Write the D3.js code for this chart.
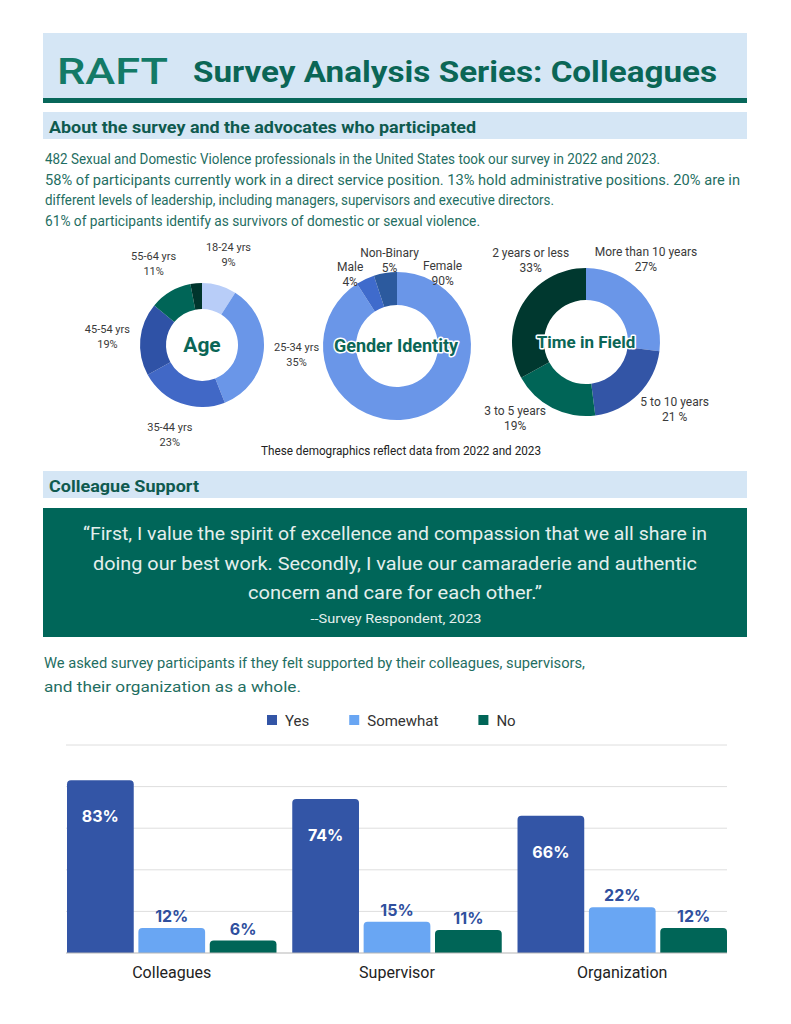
<!DOCTYPE html>
<html>
<head>
<meta charset="utf-8">
<script src="https://cdn.jsdelivr.net/npm/d3@7"></script>
<style>
  body { margin: 0; background: #fff; }
  svg { display: block; }
</style>
</head>
<body>
<svg id="page" width="791" height="1024"></svg>
<script>
// ---- data ----
var ageLabels = ["18-24 yrs", "25-34 yrs", "35-44 yrs", "45-54 yrs", "55-64 yrs", "65+ yrs"];
var ageValues = [9, 35, 23, 19, 11, 3];
var ageShown  = [true, true, true, true, true, false];

var genderLabels = ["Female", "Male", "Non-Binary"];
var genderValues = [90, 4, 5];

var timeLabels = ["More than 10 years", "5 to 10 years", "3 to 5 years", "2 years or less"];
var timeValues = [27, 21, 19, 33];
var timePctText = ["27%", "21 %", "19%", "33%"];

var groups  = ["Colleagues", "Supervisor", "Organization"];
var answers = ["Yes", "Somewhat", "No"];
var yesValues      = [83, 74, 66];
var somewhatValues = [12, 15, 22];
var noValues       = [6, 11, 12];

var paraLines = [
  "482 Sexual and Domestic Violence professionals in the United States took our survey in 2022 and 2023.",
  "58% of participants currently work in a direct service position. 13% hold administrative positions. 20% are in",
  "different levels of leadership, including managers, supervisors and executive directors.",
  "61% of participants identify as survivors of domestic or sexual violence."
];
var quoteLines = [
  "\u201cFirst, I value the spirit of excellence and compassion that we all share in",
  "doing our best work. Secondly, I value our camaraderie and authentic",
  "concern and care for each other.\u201d"
];
var askedLines = [
  "We asked survey participants if they felt supported by their colleagues, supervisors,",
  "and their organization as a whole."
];

// ---- colours ----
var teal = "#0b6656", textTeal = "#1f6e62", lightBox = "#d5e6f5";
var blueDark = "#3355a6", blueLight = "#69a6f3", greenDark = "#006557";

var svg = d3.select("#page");
var font = "Roboto, 'Open Sans', sans-serif";

function txt(x, y, s, o) {
  o = o || {};
  var t = svg.append("text")
    .attr("x", x).attr("y", y)
    .attr("font-family", o.family || font)
    .attr("font-size", o.size || 14)
    .attr("font-weight", o.weight || 400)
    .attr("fill", o.fill || "#333")
    .attr("text-anchor", o.anchor || "start")
    .text(s);
  if (o.len) t.attr("textLength", o.len).attr("lengthAdjust", "spacingAndGlyphs");
  return t;
}

// ---- header ----
svg.append("rect").attr("x", 43).attr("y", 33).attr("width", 704).attr("height", 65).attr("fill", lightBox);
svg.append("rect").attr("x", 43).attr("y", 98).attr("width", 704).attr("height", 5).attr("fill", "#07675a");
txt(57, 84, "RAFT", {size: 36, weight: 500, fill: "#137a67", len: 111});
txt(193, 82, "Survey Analysis Series: Colleagues", {size: 30, weight: 700, fill: teal, len: 524});

// ---- about section ----
svg.append("rect").attr("x", 43).attr("y", 112).attr("width", 704).attr("height", 27).attr("fill", lightBox);
txt(49, 133, "About the survey and the advocates who participated", {size: 17, weight: 700, fill: "#0f5a4f", len: 427});

var paraLen = [615, 695, 509, 435];
paraLines.forEach(function(l, i) {
  txt(45, 164 + i * 20.5, l, {size: 14, fill: textTeal, len: paraLen[i]});
});

// ---- donuts ----
function donut(cfg) {
  var pie = d3.pie().sort(null).value(function(d) { return d.value; });
  var arcs = pie(cfg.data);
  var arc = d3.arc().innerRadius(cfg.inner).outerRadius(cfg.outer);
  var g = svg.append("g").attr("transform", "translate(" + cfg.cx + "," + cfg.cy + ")");
  g.selectAll("path").data(arcs).enter().append("path")
    .attr("d", arc)
    .attr("fill", function(d, i) { return cfg.colors[i]; });

  arcs.forEach(function(d, i) {
    if (d.data.shown === false) return;
    var a = cfg.labelAngles ? cfg.labelAngles[i] * Math.PI / 180 : (d.startAngle + d.endAngle) / 2;
    var r = cfg.labelRs ? cfg.labelRs[i] : cfg.labelR;
    var lx = cfg.cx + Math.sin(a) * r;
    var ly = cfg.cy - Math.cos(a) * r;
    txt(lx, ly - 3, d.data.label, {size: cfg.labelSize, anchor: "middle", fill: "#3a3a3a"});
    txt(lx, ly + 12, d.data.pct, {size: cfg.labelSize, anchor: "middle", fill: "#3a3a3a"});
  });

  txt(cfg.cx + (cfg.titleDx || 0), cfg.cy + cfg.titleSize * 0.35, cfg.title,
      {size: cfg.titleSize, weight: 700, fill: teal, anchor: "middle"})
    .attr("stroke", "#fff").attr("stroke-width", 3).attr("paint-order", "stroke")
    .attr("stroke-linejoin", "round");
}

donut({
  cx: 202, cy: 345, outer: 62, inner: 36, labelR: 95, labelSize: 11,
  title: "Age", titleSize: 21,
  colors: ["#b8cdf8", "#6a96e8", "#4168c6", "#2f52a6", "#006557", "#00352d"],
  data: ageLabels.map(function(l, i) {
    return {label: l, value: ageValues[i], pct: ageValues[i] + "%", shown: ageShown[i]};
  })
});

donut({
  cx: 397, cy: 346, outer: 74, inner: 41, labelR: 86, labelSize: 12,
  labelAngles: [32, 327, 355],
  title: "Gender Identity", titleSize: 18, titleDx: -1,
  colors: ["#6a96e8", "#3f6bcc", "#2c5a9e"],
  data: genderLabels.map(function(l, i) {
    return {label: l, value: genderValues[i], pct: genderValues[i] + "%"};
  })
});

donut({
  cx: 586, cy: 342, outer: 74, inner: 42, labelSize: 12,
  labelAngles: [36, 127, 223, 326], labelRs: [102, 111, 104, 99],
  title: "Time in Field", titleSize: 17,
  colors: ["#6a96e8", "#3355a6", "#006557", "#00382f"],
  data: timeLabels.map(function(l, i) {
    return {label: l, value: timeValues[i], pct: timePctText[i]};
  })
});

txt(401, 455, "These demographics reflect data from 2022 and 2023", {size: 12, anchor: "middle", fill: "#222", len: 280});

// ---- colleague support ----
svg.append("rect").attr("x", 43).attr("y", 471).attr("width", 704).attr("height", 27).attr("fill", lightBox);
txt(49, 492, "Colleague Support", {size: 17, weight: 700, fill: "#0f5a4f", len: 150});

svg.append("rect").attr("x", 43).attr("y", 508).attr("width", 704).attr("height", 129).attr("fill", "#006659");
var quoteLen = [624, 604, 294];
quoteLines.forEach(function(l, i) {
  txt(395, 540 + i * 29.5, l, {size: 19, anchor: "middle", fill: "#e4efed", len: quoteLen[i]});
});
txt(396, 623, "--Survey Respondent, 2023", {size: 13, anchor: "middle", fill: "#e4efed", len: 171});

var askedLen = [541, 257];
askedLines.forEach(function(l, i) {
  txt(44, 668 + i * 24, l, {size: 14, fill: textTeal, len: askedLen[i]});
});

// ---- bar chart ----
var colors = d3.scaleOrdinal().domain(answers).range([blueDark, blueLight, greenDark]);
var series = {Yes: yesValues, Somewhat: somewhatValues, No: noValues};

// legend
var legend = svg.append("g");
var lx = 267;
answers.forEach(function(a) {
  legend.append("rect").attr("x", lx).attr("y", 715).attr("width", 10).attr("height", 10).attr("fill", colors(a));
  var t = legend.append("text").attr("x", lx + 18).attr("y", 726)
    .attr("font-family", font).attr("font-size", 15).attr("fill", "#333").text(a);
  lx += 18 + t.node().getComputedTextLength() + 40;
});

var x0 = d3.scaleBand().domain(groups).range([67, 727]).paddingInner(0.07);
var x1 = d3.scaleBand().domain(answers).range([0, x0.bandwidth()]).paddingInner(0.065);
var y = d3.scaleLinear().domain([0, 100]).range([953, 745]);

svg.append("g").selectAll("line").data(y.ticks(5).slice(1)).enter().append("line")
  .attr("x1", 66).attr("x2", 727)
  .attr("y1", function(d) { return y(d); }).attr("y2", function(d) { return y(d); })
  .attr("stroke", "#dedede").attr("stroke-width", 1);

function topRounded(x, yTop, w, h, r) {
  r = Math.min(r, h, w / 2);
  return "M" + x + "," + (yTop + h) +
    "V" + (yTop + r) + "Q" + x + "," + yTop + " " + (x + r) + "," + yTop +
    "H" + (x + w - r) + "Q" + (x + w) + "," + yTop + " " + (x + w) + "," + (yTop + r) +
    "V" + (yTop + h) + "Z";
}

var bars = [];
groups.forEach(function(gname, gi) {
  answers.forEach(function(a) {
    bars.push({group: gname, answer: a, value: series[a][gi]});
  });
});

var barG = svg.append("g");
barG.selectAll("path").data(bars).enter().append("path")
  .attr("d", function(d) {
    var bx = x0(d.group) + x1(d.answer);
    return topRounded(bx, y(d.value), x1.bandwidth(), y(0) - y(d.value), 4);
  })
  .attr("fill", function(d) { return colors(d.answer); });

barG.selectAll("text").data(bars).enter().append("text")
  .attr("x", function(d) { return x0(d.group) + x1(d.answer) + x1.bandwidth() / 2; })
  .attr("y", function(d) { return d.answer === "Yes" ? y(d.value) + 42 : y(d.value) - 6; })
  .attr("text-anchor", "middle")
  .attr("font-family", "Inter, Roboto, sans-serif")
  .attr("font-size", 16).attr("font-weight", 700)
  .attr("fill", function(d) { return d.answer === "Yes" ? "#fff" : "#2f4f9e"; })
  .text(function(d) { return d.value + "%"; });

svg.append("line").attr("x1", 66).attr("x2", 727).attr("y1", y(0)).attr("y2", y(0))
  .attr("stroke", "#b5b5b5").attr("stroke-width", 1.2);

svg.append("g").selectAll("text").data(groups).enter().append("text")
  .attr("x", function(d) { return x0(d) + x0.bandwidth() / 2; })
  .attr("y", 978)
  .attr("text-anchor", "middle")
  .attr("font-family", font).attr("font-size", 16).attr("fill", "#222")
  .text(function(d) { return d; });
</script>
</body>
</html>
